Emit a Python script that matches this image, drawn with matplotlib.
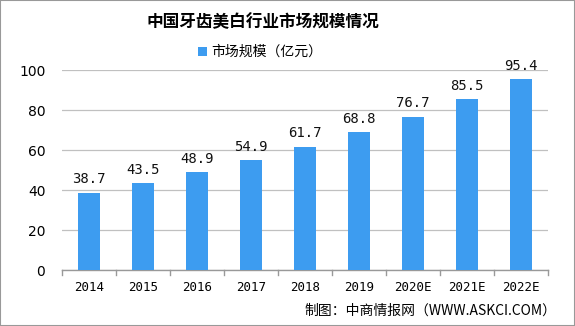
import matplotlib
matplotlib.use("Agg")
import matplotlib.pyplot as plt
from matplotlib.patches import Rectangle

plt.rcParams['font.family'] = ['Noto Sans CJK SC', 'DejaVu Sans']

years = ["2014", "2015", "2016", "2017", "2018", "2019", "2020E", "2021E", "2022E"]
market_size = [38.7, 43.5, 48.9, 54.9, 61.7, 68.8, 76.7, 85.5, 95.4]
y_ticks = [0, 20, 40, 60, 80, 100]

title = "中国牙齿美白行业市场规模情况"
series_name = "市场规模（亿元）"
source = "制图：中商情报网（WWW.ASKCI.COM）"

bar_color = "#3d9cf0"

fig = plt.figure(figsize=(5.75, 3.26), dpi=100)
ax = fig.add_axes([62/575, 1 - 270/326, (548-62)/575, (270-70)/326])

x = range(len(years))
bars = ax.bar(x, market_size, width=0.39, color=bar_color, zorder=3, label=series_name)
for xi, v in zip(x, market_size):
    ax.text(xi, v + 3.2, f"{v}", ha="center", va="bottom", fontsize=10,
            family=['DejaVu Sans Mono'], color="#111111")

ax.set_xlim(-0.5, len(years) - 0.5)
ax.set_ylim(0, 100)
ax.set_yticks(y_ticks)
ax.set_xticks(list(x))
ax.set_xticklabels(years, family=['DejaVu Sans Mono'], fontsize=9)
ax.tick_params(axis="y", length=0, labelsize=10, pad=12)
ax.tick_params(axis="x", length=0, pad=8)
for lbl in ax.get_yticklabels():
    lbl.set_family(['DejaVu Sans'])
ax.grid(axis="y", color="#c0c0c0", linewidth=0.9, zorder=0)
for s in ["top", "right", "left"]:
    ax.spines[s].set_visible(False)
ax.spines["bottom"].set_color("#999999")
ax.spines["bottom"].set_linewidth(1.0)
# category separator ticks below the baseline
for b in [i - 0.5 for i in range(len(years) + 1)]:
    ax.plot([b, b], [0, -2.5], color="#999999", linewidth=1.0, clip_on=False, zorder=4)

fig.text(263/575, 1 - 22/326, title, ha="center", va="center", fontsize=12, fontweight="bold")
fig.legend(handles=[bars], labels=[series_name], loc="center",
           bbox_to_anchor=(260/575, 1 - 52/326), frameon=False, fontsize=10,
           handlelength=0.6, handleheight=0.6, handletextpad=0.3)
fig.text(556/575, 1 - 311/326, source, ha="right", va="center", fontsize=10)

fig.patches.append(Rectangle((0, 0), 1, 1, transform=fig.transFigure, fill=False,
                             edgecolor="#999999", linewidth=1.5))

fig.savefig("out.png", dpi=100)
